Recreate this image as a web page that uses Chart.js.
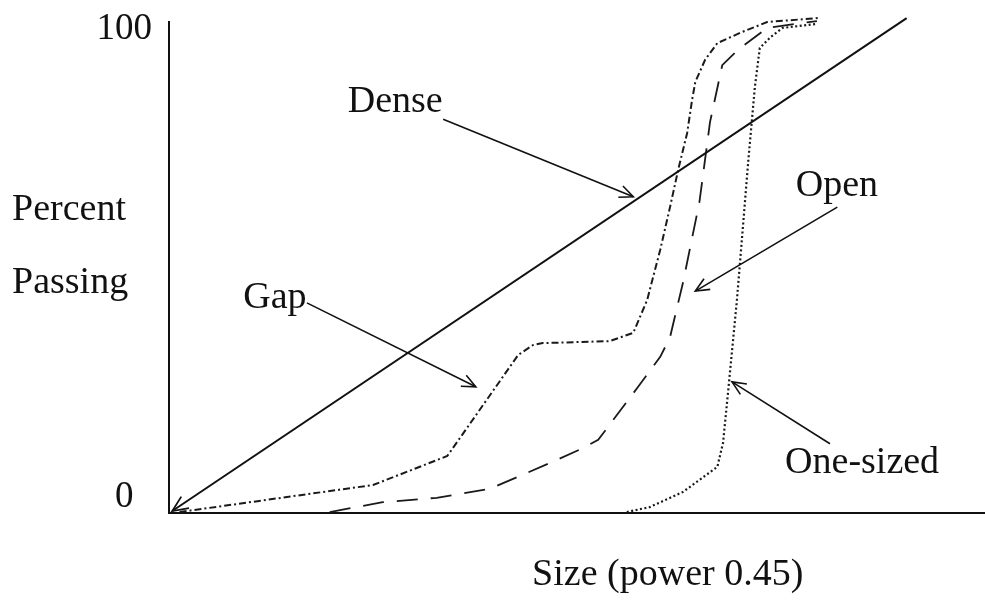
<!DOCTYPE html>
<html>
<head>
<meta charset="utf-8">
<script src="https://cdn.jsdelivr.net/npm/chart.js@4/dist/chart.umd.min.js"></script>
<style>
html,body{margin:0;padding:0;background:#fff;}
#wrap{width:985px;height:613px;}
</style>
</head>
<body>
<div id="wrap"><canvas id="c" width="985" height="613"></canvas></div>
<script>
// ---- data (x: size on power-0.45 scale, arbitrary 0-100 units; y: percent passing)
const denseX = [0.4, 90.4];
const denseY = [0.4, 100.8];

const gapX = [1.3, 25.0, 34.1, 42.8, 44.6, 45.8, 54.0, 56.9, 58.6, 60.2, 61.4, 62.4, 63.5, 64.1, 64.5, 65.7, 67.2, 70.0, 73.3, 79.5];
const gapY = [0.2, 5.7, 11.6, 32.2, 34.2, 34.6, 35.0, 36.7, 43.4, 53.6, 62.3, 69.9, 77.4, 84.1, 87.8, 92.3, 95.7, 97.8, 100.0, 100.8];

const openX = [19.7, 26.2, 32.8, 39.3, 46.7, 50.7, 52.6, 57.4, 60.2, 61.4, 63.0, 65.0, 66.3, 67.8, 69.7, 73.3, 79.4];
const openY = [0.2, 2.2, 3.1, 4.9, 10.2, 13.2, 14.9, 25.5, 31.8, 35.8, 47.0, 63.3, 79.6, 91.2, 94.3, 98.8, 100.2];

const oneX = [56.1, 58.9, 63.0, 67.2, 67.9, 68.5, 69.6, 70.0, 71.0, 71.8, 72.4, 73.7, 75.2, 79.4];
const oneY = [0.2, 1.2, 4.3, 9.4, 14.3, 24.4, 43.4, 51.5, 71.9, 86.8, 94.7, 96.9, 98.8, 99.6];

const yTickValues = [0, 100];
const yTickLabels = ['0', '100'];

const seriesNames = ['Dense', 'Gap', 'Open', 'One-sized'];
const yAxisTitle = ['Percent', 'Passing'];
const xAxisTitle = 'Size (power 0.45)';

// ---- helpers
const pts = (xs, ys) => xs.map((x, i) => ({x: x, y: ys[i]}));
const FONT = 'Liberation Serif, Times New Roman, serif';
const INK = '#111';

// annotation callouts: label text anchor and arrow (in data units)
const callouts = [
  {text: 'Dense', tx: 21.9, ty: 81.7, from: [33.6, 80.2], to: [56.9, 64.4]},
  {text: 'Gap', tx: 9.1, ty: 41.8, from: [16.9, 42.8], to: [37.6, 25.7]},
  {text: 'Open', tx: 76.8, ty: 64.6, from: [81.9, 62.3], to: [64.5, 45.2]},
  {text: 'One-sized', tx: 75.5, ty: 8.1, from: [81.0, 14.1], to: [69.0, 26.7]}
];

function arrowHead(ctx, x1, y1, x2, y2, len) {
  const a = Math.atan2(y2 - y1, x2 - x1);
  const s = 0.42;
  ctx.beginPath();
  ctx.moveTo(x2 - len * Math.cos(a - s), y2 - len * Math.sin(a - s));
  ctx.lineTo(x2, y2);
  ctx.lineTo(x2 - len * Math.cos(a + s), y2 - len * Math.sin(a + s));
  ctx.stroke();
}

const annotate = {
  id: 'annotate',
  afterDatasetsDraw(chart) {
    const ctx = chart.ctx;
    const xs = chart.scales.x, ys = chart.scales.y;
    const ca = chart.chartArea;
    ctx.save();
    ctx.fillStyle = INK;
    ctx.strokeStyle = INK;
    ctx.lineWidth = 1.6;
    ctx.font = '38px ' + FONT;
    ctx.textBaseline = 'alphabetic';
    ctx.textAlign = 'left';
    callouts.forEach(c => {
      ctx.fillText(c.text, xs.getPixelForValue(c.tx), ys.getPixelForValue(c.ty));
      const x1 = xs.getPixelForValue(c.from[0]), y1 = ys.getPixelForValue(c.from[1]);
      const x2 = xs.getPixelForValue(c.to[0]), y2 = ys.getPixelForValue(c.to[1]);
      ctx.beginPath(); ctx.moveTo(x1, y1); ctx.lineTo(x2, y2); ctx.stroke();
      arrowHead(ctx, x1, y1, x2, y2, 15);
    });
    // arrowhead at the lower end of the Dense line (pointing to the origin)
    const dx1 = xs.getPixelForValue(denseX[1]), dy1 = ys.getPixelForValue(denseY[1]);
    const dx0 = xs.getPixelForValue(denseX[0]), dy0 = ys.getPixelForValue(denseY[0]);
    ctx.lineWidth = 1.8;
    arrowHead(ctx, dx1, dy1, dx0, dy0, 17);
    // y-axis title (horizontal, two lines, left of the axis)
    ctx.fillText(yAxisTitle[0], 12, 220);
    ctx.fillText(yAxisTitle[1], 12, 293);
    // x-axis title
    ctx.fillText(xAxisTitle, xs.getPixelForValue(44.5), ca.bottom + 72);
    ctx.restore();
  }
};

const lineDs = (label, data, dash, width, color) => ({
  label: label,
  data: data,
  borderColor: color,
  borderWidth: width,
  borderDash: dash,
  pointRadius: 0,
  tension: 0,
  fill: false,
  clip: false
});

new Chart(document.getElementById('c'), {
  type: 'line',
  data: {
    datasets: [
      lineDs(seriesNames[0], pts(denseX, denseY), [], 2, INK),
      lineDs(seriesNames[1], pts(gapX, gapY), [7, 3, 2, 3], 2, '#1a1a1a'),
      lineDs(seriesNames[2], pts(openX, openY), [21, 13], 1.8, '#1a1a1a'),
      lineDs(seriesNames[3], pts(oneX, oneY), [2, 2.5], 2.2, '#1a1a1a')
    ]
  },
  options: {
    responsive: false,
    animation: false,
    devicePixelRatio: 1,
    layout: {padding: {left: 0, top: 22, right: 0, bottom: 100}},
    plugins: {legend: {display: false}, tooltip: {enabled: false}, title: {display: false}},
    scales: {
      x: {
        type: 'linear', min: 0, max: 100,
        grid: {display: false, drawTicks: false},
        border: {display: true, color: INK, width: 2},
        ticks: {display: false}
      },
      y: {
        type: 'linear', min: 0, max: 100,
        afterBuildTicks: s => { s.ticks = yTickValues.map(v => ({value: v})); },
        afterFit: s => { s.width = 169; s.paddingTop = 0; s.paddingBottom = 0; },
        grid: {display: false, drawTicks: false},
        border: {display: true, color: INK, width: 2},
        ticks: {
          color: INK,
          padding: 17,
          crossAlign: 'center',
          callback: v => {
            const lbl = yTickLabels[yTickValues.indexOf(v)];
            return v === 0 ? [lbl, ''] : ['', lbl];
          },
          font: ctx => ({family: FONT, size: 37, lineHeight: (ctx.tick && ctx.tick.value === 0) ? '32px' : '14px'})
        }
      }
    }
  },
  plugins: [annotate]
});
</script>
</body>
</html>
